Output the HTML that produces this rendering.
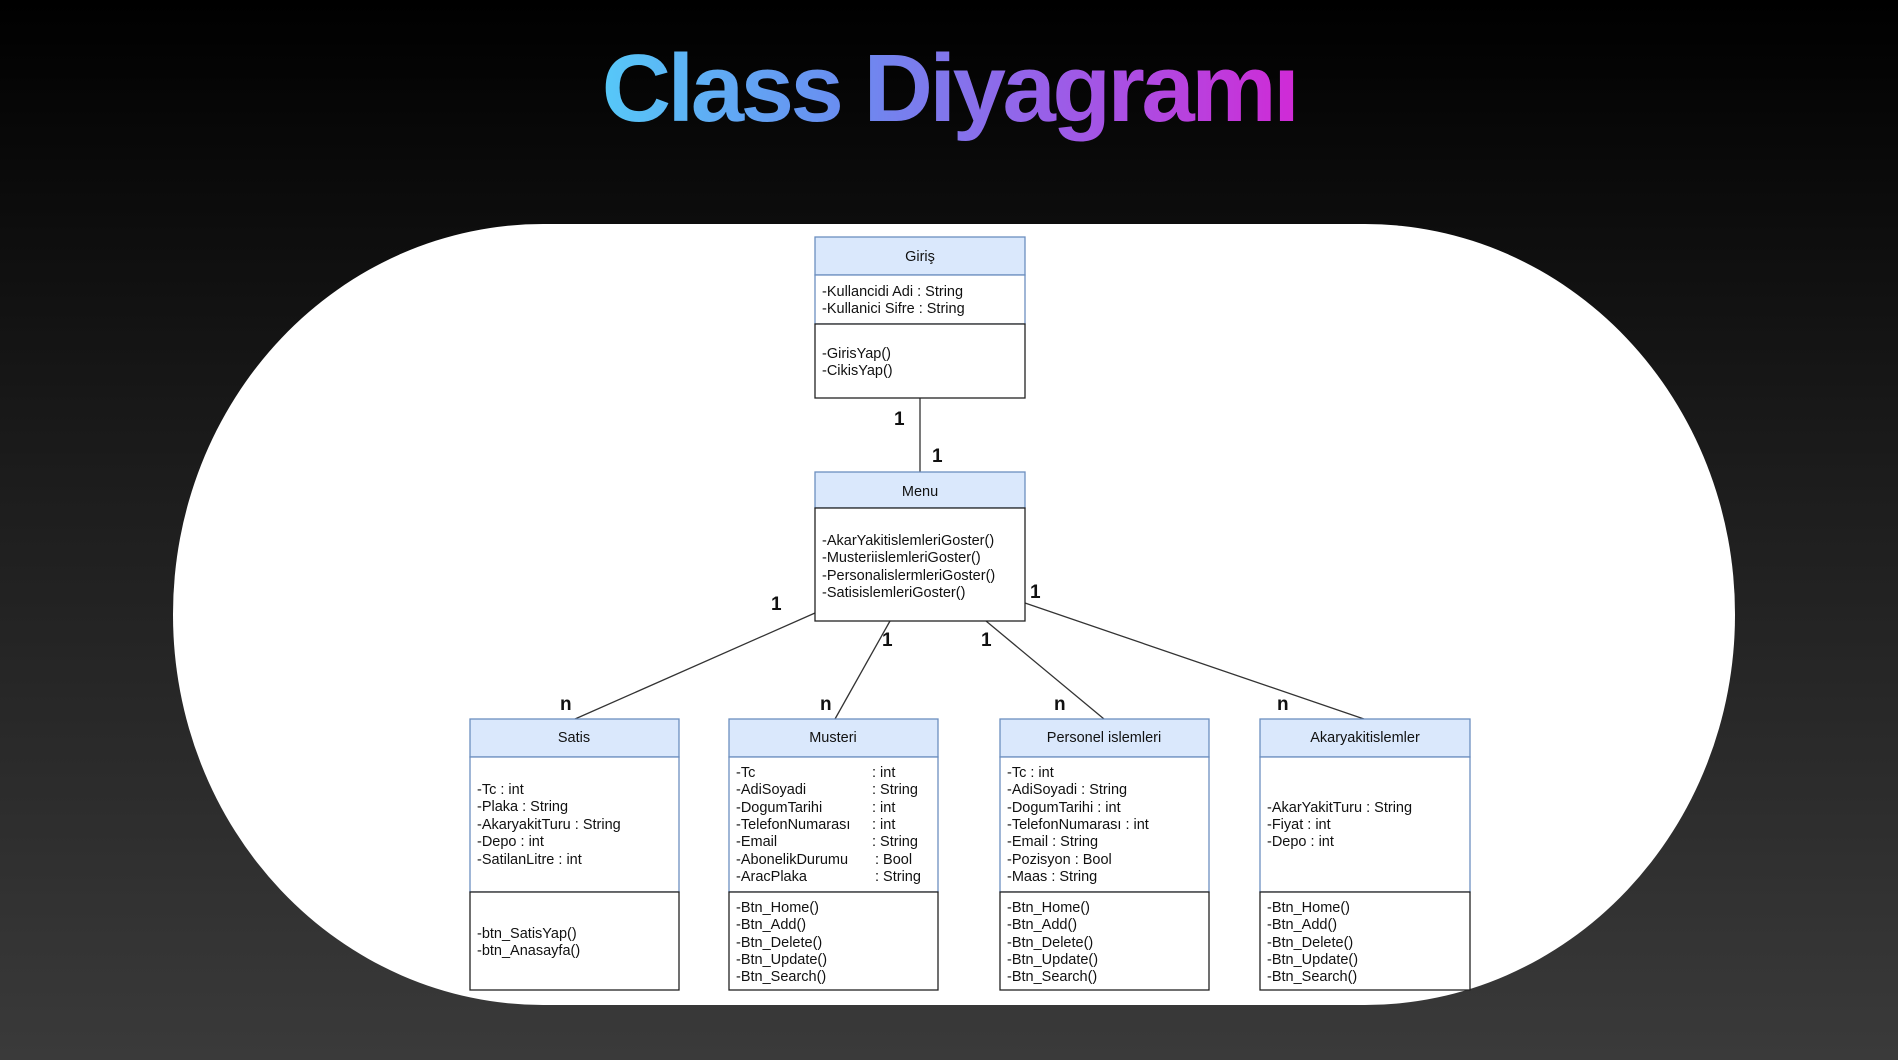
<!DOCTYPE html>
<html><head><meta charset="utf-8"><style>
html,body{margin:0;padding:0;width:1898px;height:1060px;overflow:hidden;background:linear-gradient(180deg,#000 0%,#1c1c1c 45%,#3a3a3a 100%);}
#title{position:absolute;left:0;width:1898px;top:24px;text-align:center;font-family:"Liberation Sans",sans-serif;font-weight:bold;font-size:96px;letter-spacing:-3.5px;line-height:130px;}
#title span{background:linear-gradient(90deg,#56c8f8 0%,#6a8cf0 35%,#9a5ee8 65%,#d02ad6 100%);-webkit-background-clip:text;background-clip:text;color:transparent;}
#card{position:absolute;left:173px;top:224px;width:1562px;height:781px;background:#fff;border-radius:370px/390px;}
svg{position:absolute;left:0;top:0;}
text{font-family:"Liberation Sans",sans-serif;font-size:14.5px;fill:#111;}
.b{font-weight:bold;font-size:19px;}
</style></head><body>
<div id="title"><span>Class Diyagramı</span></div>
<div id="card"></div>
<svg width="1898" height="1060">
<g stroke="#333" stroke-width="1.3">
<line x1="920" y1="398" x2="920" y2="472"/>
<line x1="815" y1="613" x2="575" y2="719"/>
<line x1="890" y1="621" x2="835" y2="719"/>
<line x1="986" y1="621" x2="1104" y2="719"/>
<line x1="1025" y1="603" x2="1364" y2="719"/>
</g>
<g class="lbl">
<text class="b" x="894" y="425">1</text>
<text class="b" x="932" y="462">1</text>
<text class="b" x="771" y="610">1</text>
<text class="b" x="882" y="646">1</text>
<text class="b" x="981" y="646">1</text>
<text class="b" x="1030" y="598">1</text>
<text class="b" x="560" y="710">n</text>
<text class="b" x="820" y="710">n</text>
<text class="b" x="1054" y="710">n</text>
<text class="b" x="1277" y="710">n</text>
</g>
<!-- Giris -->
<rect x="815" y="237" width="210" height="38" fill="#dae8fc" stroke="#6c8ebf" stroke-width="1.3"/>
<rect x="815" y="275" width="210" height="49" fill="#fff" stroke="#6c8ebf" stroke-width="1.3"/>
<rect x="815" y="324" width="210" height="74" fill="#fff" stroke="#222" stroke-width="1.3"/>
<text x="920" y="261" text-anchor="middle">Giriş</text>
<text x="822" y="296">-Kullancidi Adi : String</text>
<text x="822" y="313">-Kullanici Sifre : String</text>
<text x="822" y="358">-GirisYap()</text>
<text x="822" y="375">-CikisYap()</text>
<!-- Menu -->
<rect x="815" y="472" width="210" height="36" fill="#dae8fc" stroke="#6c8ebf" stroke-width="1.3"/>
<rect x="815" y="508" width="210" height="113" fill="#fff" stroke="#222" stroke-width="1.3"/>
<text x="920" y="496" text-anchor="middle">Menu</text>
<text x="822" y="545">-AkarYakitislemleriGoster()</text>
<text x="822" y="562">-MusteriislemleriGoster()</text>
<text x="822" y="580">-PersonalislermleriGoster()</text>
<text x="822" y="597">-SatisislemleriGoster()</text>
<!-- Satis -->
<rect x="470" y="719" width="209" height="38" fill="#dae8fc" stroke="#6c8ebf" stroke-width="1.3"/>
<rect x="470" y="757" width="209" height="135" fill="#fff" stroke="#6c8ebf" stroke-width="1.3"/>
<rect x="470" y="892" width="209" height="98" fill="#fff" stroke="#222" stroke-width="1.3"/>
<text x="574" y="742" text-anchor="middle">Satis</text>
<text x="477" y="794">-Tc : int</text>
<text x="477" y="811">-Plaka : String</text>
<text x="477" y="829">-AkaryakitTuru : String</text>
<text x="477" y="846">-Depo : int</text>
<text x="477" y="864">-SatilanLitre : int</text>
<text x="477" y="938">-btn_SatisYap()</text>
<text x="477" y="955">-btn_Anasayfa()</text>
<!-- Musteri -->
<rect x="729" y="719" width="209" height="38" fill="#dae8fc" stroke="#6c8ebf" stroke-width="1.3"/>
<rect x="729" y="757" width="209" height="135" fill="#fff" stroke="#6c8ebf" stroke-width="1.3"/>
<rect x="729" y="892" width="209" height="98" fill="#fff" stroke="#222" stroke-width="1.3"/>
<text x="833" y="742" text-anchor="middle">Musteri</text>
<g>
<text x="736" y="777">-Tc</text><text x="872" y="777">: int</text>
<text x="736" y="794">-AdiSoyadi</text><text x="872" y="794">: String</text>
<text x="736" y="812">-DogumTarihi</text><text x="872" y="812">: int</text>
<text x="736" y="829">-TelefonNumarası</text><text x="872" y="829">:  int</text>
<text x="736" y="846">-Email</text><text x="872" y="846">: String</text>
<text x="736" y="864">-AbonelikDurumu</text><text x="875" y="864">: Bool</text>
<text x="736" y="881">-AracPlaka</text><text x="875" y="881">: String</text>
</g>
<text x="736" y="912">-Btn_Home()</text>
<text x="736" y="929">-Btn_Add()</text>
<text x="736" y="947">-Btn_Delete()</text>
<text x="736" y="964">-Btn_Update()</text>
<text x="736" y="981">-Btn_Search()</text>
<!-- Personel -->
<rect x="1000" y="719" width="209" height="38" fill="#dae8fc" stroke="#6c8ebf" stroke-width="1.3"/>
<rect x="1000" y="757" width="209" height="135" fill="#fff" stroke="#6c8ebf" stroke-width="1.3"/>
<rect x="1000" y="892" width="209" height="98" fill="#fff" stroke="#222" stroke-width="1.3"/>
<text x="1104" y="742" text-anchor="middle">Personel islemleri</text>
<text x="1007" y="777">-Tc : int</text>
<text x="1007" y="794">-AdiSoyadi : String</text>
<text x="1007" y="812">-DogumTarihi : int</text>
<text x="1007" y="829">-TelefonNumarası :  int</text>
<text x="1007" y="846">-Email : String</text>
<text x="1007" y="864">-Pozisyon : Bool</text>
<text x="1007" y="881">-Maas : String</text>
<text x="1007" y="912">-Btn_Home()</text>
<text x="1007" y="929">-Btn_Add()</text>
<text x="1007" y="947">-Btn_Delete()</text>
<text x="1007" y="964">-Btn_Update()</text>
<text x="1007" y="981">-Btn_Search()</text>
<!-- Akar -->
<rect x="1260" y="719" width="210" height="38" fill="#dae8fc" stroke="#6c8ebf" stroke-width="1.3"/>
<rect x="1260" y="757" width="210" height="135" fill="#fff" stroke="#6c8ebf" stroke-width="1.3"/>
<rect x="1260" y="892" width="210" height="98" fill="#fff" stroke="#222" stroke-width="1.3"/>
<text x="1365" y="742" text-anchor="middle">Akaryakitislemler</text>
<text x="1267" y="812">-AkarYakitTuru : String</text>
<text x="1267" y="829">-Fiyat : int</text>
<text x="1267" y="846">-Depo : int</text>
<text x="1267" y="912">-Btn_Home()</text>
<text x="1267" y="929">-Btn_Add()</text>
<text x="1267" y="947">-Btn_Delete()</text>
<text x="1267" y="964">-Btn_Update()</text>
<text x="1267" y="981">-Btn_Search()</text>
</svg>
</body></html>
